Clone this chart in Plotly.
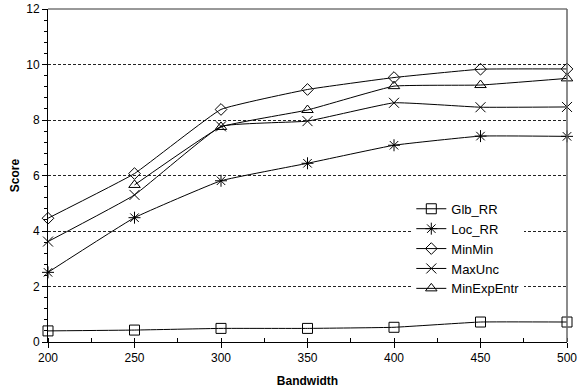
import plotly.graph_objects as go

bandwidth = [200, 250, 300, 350, 400, 450, 500]
glb_rr = [0.40, 0.43, 0.49, 0.49, 0.53, 0.72, 0.72]
loc_rr = [2.51, 4.48, 5.81, 6.44, 7.09, 7.42, 7.41]
minmin = [4.46, 6.07, 8.38, 9.10, 9.53, 9.83, 9.84]
maxunc = [3.62, 5.30, 7.77, 7.96, 8.62, 8.46, 8.47]
minexpentr = [None, 5.66, 7.75, 8.36, 9.22, 9.26, 9.50]

series = [
    ("Glb_RR", glb_rr, "square-open", 10),
    ("Loc_RR", loc_rr, "asterisk-open", 10),
    ("MinMin", minmin, "diamond-open", 9),
    ("MaxUnc", maxunc, "x-thin-open", 10),
    ("MinExpEntr", minexpentr, "triangle-up-open", 10),
]

fig = go.Figure()
for name, vals, sym, size in series:
    fig.add_trace(go.Scatter(
        x=bandwidth, y=vals, name=name, mode="lines+markers",
        line=dict(color="black", width=1, shape="spline", smoothing=0.3),
        marker=dict(symbol=sym, size=size, color="black",
                    line=dict(color="black", width=1)),
        cliponaxis=False, connectgaps=False,
    ))

font = "Liberation Sans, Arial, sans-serif"
fig.update_layout(
    width=579, height=390,
    margin=dict(l=48, r=12, t=9, b=48, autoexpand=False),
    paper_bgcolor="white", plot_bgcolor="white",
    font=dict(family=font, size=12, color="black"),
    showlegend=True,
    legend=dict(x=0.70, y=0.445, xanchor="left", yanchor="top",
                bgcolor="white", borderwidth=0,
                font=dict(family=font, size=13, color="black"),
                itemwidth=30, tracegroupgap=0),
    xaxis=dict(range=[200, 500], tickmode="array", tickvals=bandwidth,
               automargin=False,
               showgrid=False, zeroline=False, showline=True,
               linecolor="black", linewidth=1,
               ticks="outside", ticklen=5, tickcolor="black",
               minor=dict(dtick=25, ticks="inside", ticklen=4, tickcolor="black",
                          showgrid=False),
               title=dict(text="<b>Bandwidth</b>", font=dict(size=12), standoff=12)),
    yaxis=dict(range=[0, 12], dtick=2, tick0=0, automargin=False,
               showgrid=True, gridcolor="#222222", gridwidth=0.8, griddash="3px,2px",
               zeroline=False, showline=True, linecolor="black", linewidth=1,
               ticks="outside", ticklen=5, tickcolor="black",
               minor=dict(dtick=0.4, ticks="outside", ticklen=3, tickcolor="black",
                          showgrid=False),
               title=dict(text="<b>Score</b>", font=dict(size=12), standoff=4)),
    shapes=[
        dict(type="line", xref="paper", yref="paper", x0=0, x1=1, y0=1, y1=1,
             line=dict(color="#333333", width=1)),
        dict(type="line", xref="paper", yref="paper", x0=1, x1=1, y0=0, y1=1,
             line=dict(color="#666666", width=1.5)),
    ],
)

fig.write_html("out.html", config={"displayModeBar": False},
               post_script="document.body.style.margin='0px';")
